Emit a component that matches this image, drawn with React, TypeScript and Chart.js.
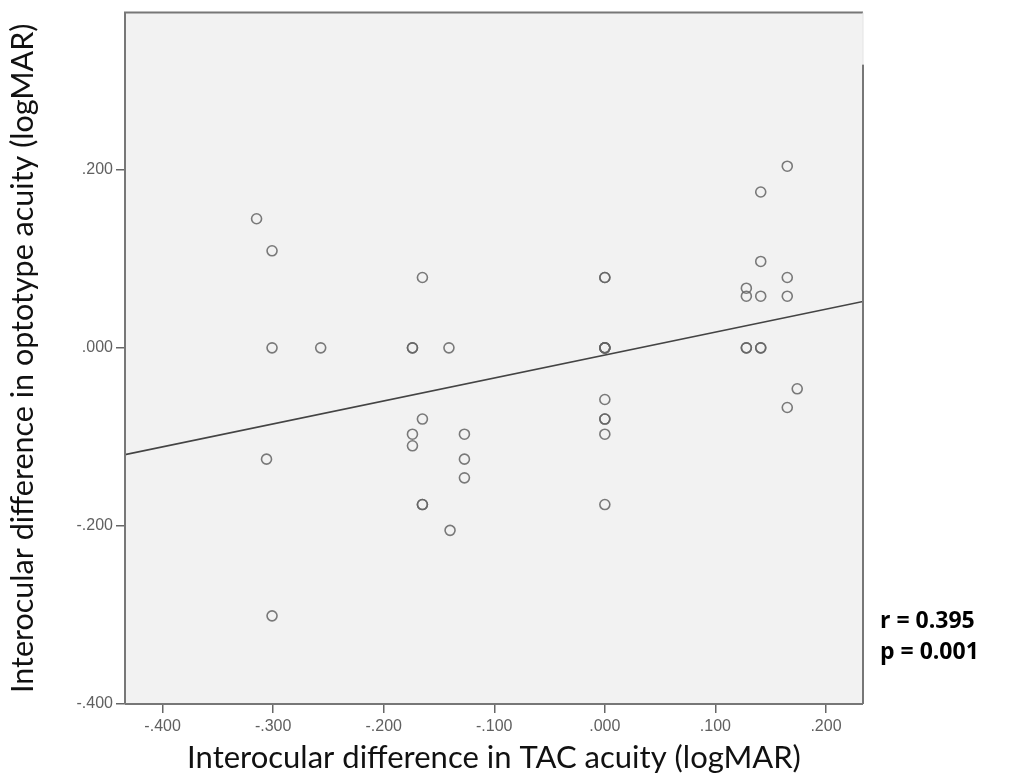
import React, { useEffect, useRef } from "react";
import { Chart, registerables } from "chart.js";

Chart.register(...registerables);

// Scatter data (x: interocular difference in TAC acuity, y: optotype acuity)
const tacDiff: number[] = [
  -0.315, -0.301, -0.301, -0.257, -0.306, -0.301,
  -0.165, -0.174, -0.174, -0.141, -0.165, -0.174, -0.174,
  -0.127, -0.127, -0.127, -0.165, -0.165, -0.140,
  0.0, 0.0, 0.0, 0.0, 0.0, 0.0, 0.0, 0.0, 0.0, 0.0, 0.0,
  0.165, 0.141, 0.141, 0.128, 0.128, 0.141, 0.165, 0.165,
  0.128, 0.128, 0.141, 0.141, 0.174, 0.165,
];
const optoDiff: number[] = [
  0.145, 0.109, 0.0, 0.0, -0.125, -0.301,
  0.079, 0.0, 0.0, 0.0, -0.080, -0.097, -0.110,
  -0.097, -0.125, -0.146, -0.176, -0.176, -0.205,
  0.079, 0.079, 0.0, 0.0, 0.0, 0.0, -0.058, -0.080, -0.080, -0.097, -0.176,
  0.204, 0.175, 0.097, 0.067, 0.058, 0.058, 0.079, 0.058,
  0.0, 0.0, 0.0, 0.0, -0.046, -0.067,
];

// Fit line end points
const fitX: number[] = [-0.434, 0.2335];
const fitY: number[] = [-0.120, 0.052];

const xTicks: number[] = [-0.4, -0.3, -0.2, -0.1, 0.0, 0.1, 0.2];
const yTicks: number[] = [-0.4, -0.2, 0.0, 0.2];
const xRange: number[] = [-0.434, 0.2335];
const yRange: number[] = [-0.4, 0.3765];

const xTitle = "Interocular difference in TAC acuity (logMAR)";
const yTitle = "Interocular difference in optotype acuity (logMAR)";
const statLines: string[] = ["r = 0.395", "p = 0.001"];

const fmt = (v: number) => {
  const s = Number(v).toFixed(3);
  return s.replace(/^(-?)0\./, "$1.");
};

export default function App() {
  const ref = useRef<HTMLCanvasElement | null>(null);

  useEffect(() => {
    if (!ref.current) return;
    const framePlugin = {
      id: "frame",
      beforeDatasetsDraw(chart: any) {
        const { ctx, chartArea: a } = chart;
        ctx.save();
        ctx.fillStyle = "#f2f2f2";
        ctx.fillRect(a.left, a.top, a.right - a.left, a.bottom - a.top);
        ctx.restore();
      },
      afterDatasetsDraw(chart: any) {
        const { ctx, chartArea: a } = chart;
        ctx.save();
        ctx.strokeStyle = "#777";
        ctx.lineWidth = 2;
        ctx.beginPath();
        ctx.moveTo(a.left, a.bottom);
        ctx.lineTo(a.left, a.top);
        ctx.lineTo(a.right, a.top);
        ctx.stroke();
        ctx.beginPath();
        ctx.moveTo(a.left, a.bottom);
        ctx.lineTo(a.right, a.bottom);
        ctx.stroke();
        ctx.beginPath();
        ctx.moveTo(a.right, a.top + 52);
        ctx.lineTo(a.right, a.bottom);
        ctx.stroke();
        ctx.strokeStyle = "#e4e4e4";
        ctx.lineWidth = 1;
        ctx.beginPath();
        ctx.moveTo(a.right, a.top);
        ctx.lineTo(a.right, a.top + 52);
        ctx.stroke();
        // stats text
        ctx.fillStyle = "#000";
        ctx.font = "bold 23px 'Open Sans'";
        ctx.textBaseline = "middle";
        ctx.textAlign = "left";
        statLines.forEach((t, i) => ctx.fillText(t, a.right + 17, 621 + i * 31));
        ctx.restore();
      },
    };

    const chart = new Chart(ref.current, {
      type: "scatter",
      data: {
        datasets: [
          {
            type: "line",
            data: fitX.map((x, i) => ({ x, y: fitY[i] })),
            borderColor: "#444",
            borderWidth: 1.6,
            pointRadius: 0,
            fill: false,
          } as any,
          {
            data: tacDiff.map((x, i) => ({ x, y: optoDiff[i] })),
            backgroundColor: "rgba(0,0,0,0)",
            borderColor: "rgba(100,100,100,0.85)",
            borderWidth: 1.6,
            pointRadius: 5,
          },
        ],
      },
      options: {
        responsive: false,
        animation: false,
        devicePixelRatio: 1,
        layout: { padding: { top: 8, right: 147, left: 0, bottom: 0 } },
        plugins: { legend: { display: false }, tooltip: { enabled: false } },
        scales: {
          x: {
            type: "linear",
            min: xRange[0],
            max: xRange[1],
            afterBuildTicks: (s: any) => {
              s.ticks = xTicks.map((v) => ({ value: v }));
            },
            afterFit: (s: any) => {
              s.height = 78;
            },
            grid: {
              drawOnChartArea: false,
              drawTicks: true,
              tickLength: 9,
              color: "#666",
              lineWidth: 1.5,
            },
            border: { display: false },
            ticks: {
              callback: (v: any) => fmt(v),
              color: "#606060",
              font: { family: "'Liberation Sans'", size: 16 },
              padding: 4,
              maxRotation: 0,
            },
            title: {
              display: true,
              text: xTitle,
              color: "#111",
              font: { family: "Lato", size: 31 },
              padding: { top: 0, bottom: 5 },
            },
          },
          y: {
            type: "linear",
            min: yRange[0],
            max: yRange[1],
            afterBuildTicks: (s: any) => {
              s.ticks = yTicks.map((v) => ({ value: v }));
            },
            afterFit: (s: any) => {
              s.width = 125;
            },
            grid: {
              drawOnChartArea: false,
              drawTicks: true,
              tickLength: 9,
              color: "#666",
              lineWidth: 1.5,
            },
            border: { display: false },
            ticks: {
              callback: (v: any) => fmt(v),
              color: "#606060",
              font: { family: "'Liberation Sans'", size: 16 },
              padding: 3,
            },
            title: {
              display: true,
              text: yTitle,
              color: "#111",
              font: { family: "Lato", size: 30.5 },
              padding: { top: 5, bottom: 0 },
            },
          },
        },
      },
      plugins: [framePlugin],
    } as any);
    return () => chart.destroy();
  }, []);

  return (
    <div style={{ position: "fixed", left: 0, top: 0, width: 1010, height: 782, background: "#fff" }}>
      <canvas ref={ref} width={1010} height={782} style={{ width: 1010, height: 782 }} />
    </div>
  );
}
